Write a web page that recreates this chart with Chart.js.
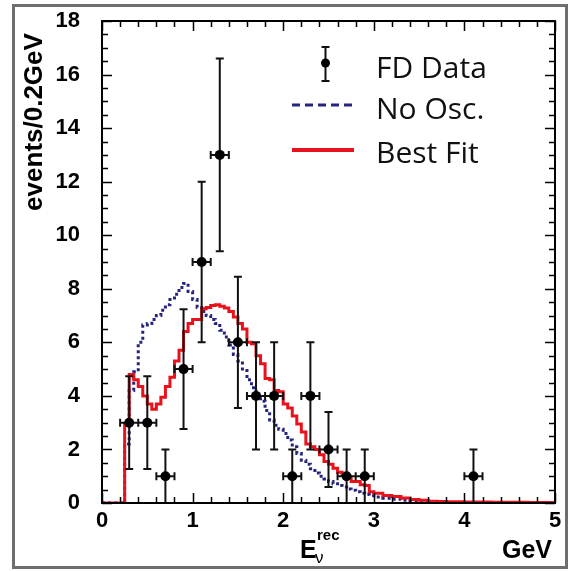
<!DOCTYPE html>
<html>
<head>
<meta charset="utf-8">
<script src="https://cdn.jsdelivr.net/npm/chart.js@4"></script>
<style>
  html, body { margin: 0; padding: 0; background: #fff; }
  canvas { display: block; }
</style>
</head>
<body>
<canvas id="c" width="570" height="571"></canvas>
<script>
// bin edges (GeV) shared by both histograms
const binEdges = [0, 0.25, 0.30, 0.35, 0.40, 0.45, 0.50, 0.55, 0.60, 0.65, 0.70, 0.75, 0.80, 0.85, 0.90, 0.95,
  1.00, 1.05, 1.10, 1.15, 1.20, 1.25, 1.30, 1.35, 1.40, 1.45, 1.50, 1.55, 1.60, 1.65, 1.70, 1.75, 1.80, 1.85, 1.90, 1.95,
  2.00, 2.05, 2.10, 2.15, 2.20, 2.25, 2.30, 2.35, 2.40, 2.45, 2.50, 2.55, 2.60, 2.65, 2.70, 2.75, 2.80, 2.85, 2.90, 2.95,
  3.0, 3.1, 3.2, 3.3, 3.4, 3.5, 3.6, 3.7, 3.8, 3.9, 4.0, 4.1, 4.2, 4.3, 4.4, 4.5, 4.6, 4.7, 4.8, 4.9, 5.0];

// no oscillation prediction (blue dotted)
const noOsc = [0, 2.2, 4.2, 4.9, 6.0, 6.65, 6.7, 6.85, 7.0, 7.2, 7.4, 7.6, 7.8, 8.05, 8.2,
  7.9, 7.6, 7.3, 7.15, 7.0, 6.85, 6.7, 6.45, 6.2, 5.9, 5.55, 5.3, 4.95, 4.6, 4.3, 4.05, 3.8, 3.45, 3.1, 2.9, 2.75,
  2.6, 2.35, 2.1, 1.85, 1.6, 1.45, 1.28, 1.12, 1.0, 0.9, 0.8, 0.72, 0.65, 0.6, 0.52, 0.48, 0.42, 0.36, 0.32, 0.27,
  0.22, 0.18, 0.14, 0.1, 0.07, 0.04, 0.02, 0.01, 0.01, 0.01, 0.01, 0.01, 0.01, 0.01, 0.01, 0.01, 0.01, 0.01, 0.01, 0.01];

// best fit (red)
const bestFit = [0, 2.95, 4.8, 4.6, 4.35, 4.0, 3.7, 3.5, 3.7, 3.95, 4.35, 4.7, 5.3, 5.7, 6.4,
  6.7, 6.85, 6.85, 7.25, 7.3, 7.38, 7.4, 7.35, 7.28, 7.15, 6.95, 6.7, 6.5, 6.0, 5.95, 5.5, 5.2, 4.65, 4.6, 4.2, 4.15,
  3.7, 3.55, 3.25, 2.95, 2.65, 2.2, 2.1, 2.0, 1.8, 1.55, 1.45, 1.3, 1.15, 1.05, 0.95, 0.8, 0.8, 0.68, 0.65, 0.42,
  0.36, 0.28, 0.24, 0.19, 0.13, 0.1, 0.07, 0.06, 0.05, 0.05, 0.04, 0.04, 0.04, 0.03, 0.03, 0.03, 0.03, 0.02, 0.02, 0.02];

// FD data with errors
const fdX    = [0.3, 0.5, 0.7, 0.9, 1.1, 1.3, 1.5, 1.7, 1.9, 2.1, 2.3, 2.5, 2.7, 2.9, 4.1];
const fdY    = [3, 3, 1, 5, 9, 13, 6, 4, 4, 1, 4, 2, 1, 1, 1];
const fdLow  = [1.27, 1.27, 0, 2.76, 6.0, 9.4, 3.55, 2.0, 2.0, 0, 2.0, 0.6, 0, 0, 0];
const fdHigh = [4.73, 4.73, 2.0, 7.24, 12.0, 16.6, 8.45, 6.0, 6.0, 2.0, 6.0, 3.4, 2.0, 2.0, 2.0];
const fdXerr = 0.1;

const BLUE = '#25257f';
const RED = '#e8121c';
const INK = '#111';

function histPoints(edges, vals) {
  return edges.map((e, i) => ({ x: e, y: i < vals.length ? vals[i] : vals[vals.length - 1] }));
}

// frame, inward ticks, outer gray border, texts, legend
const decor = {
  id: 'decor',
  beforeDraw(chart) {
    const ctx = chart.ctx;
    ctx.save();
    ctx.fillStyle = '#fff';
    ctx.fillRect(0, 0, chart.width, chart.height);
    ctx.strokeStyle = '#6e6e6e';
    ctx.lineWidth = 3;
    ctx.strokeRect(13.5, 5.5, 553, 562);
    ctx.restore();
  },
  afterDraw(chart) {
    const ctx = chart.ctx;
    const { left, right, top, bottom } = chart.chartArea;
    const xs = chart.scales.x, ys = chart.scales.y;
    ctx.save();
    ctx.strokeStyle = '#000';
    ctx.lineWidth = 1.5;
    ctx.beginPath();
    for (let v = 0; v <= 5.0001; v += 0.2) {
      const px = Math.round(xs.getPixelForValue(v)) + 0.5;
      const len = Math.abs(v - Math.round(v)) < 1e-6 ? 10 : 6;
      ctx.moveTo(px, bottom); ctx.lineTo(px, bottom - len);
      ctx.moveTo(px, top); ctx.lineTo(px, top + len);
    }
    for (let v = 0; v <= 18.0001; v += 0.5) {
      const py = Math.round(ys.getPixelForValue(v)) + 0.5;
      const len = Math.abs(v / 2 - Math.round(v / 2)) < 1e-6 ? 10 : 6;
      ctx.moveTo(left, py); ctx.lineTo(left + len, py);
      ctx.moveTo(right, py); ctx.lineTo(right - len, py);
    }
    ctx.stroke();
    ctx.lineWidth = 2;
    ctx.strokeRect(left, top, right - left, bottom - top);

    // y axis title
    ctx.fillStyle = '#000';
    ctx.save();
    ctx.translate(42, 122);
    ctx.rotate(-Math.PI / 2);
    ctx.font = 'bold 26px "Liberation Sans", Arial, sans-serif';
    ctx.textAlign = 'center';
    ctx.textBaseline = 'alphabetic';
    ctx.fillText('events/0.2GeV', 0, 0);
    ctx.restore();

    // x axis title
    ctx.font = 'bold 25px "Liberation Sans", Arial, sans-serif';
    ctx.textAlign = 'left';
    ctx.textBaseline = 'alphabetic';
    ctx.fillText('E', 300, 558);
    ctx.font = '17px "Liberation Sans", Arial, sans-serif';
    ctx.fillText('\u03BD', 315, 563);
    ctx.font = 'bold 15px "Liberation Sans", Arial, sans-serif';
    ctx.fillText('rec', 317, 540);
    ctx.font = 'bold 25px "Liberation Sans", Arial, sans-serif';
    ctx.textAlign = 'right';
    ctx.fillText('GeV', 552, 558);

    // legend
    ctx.strokeStyle = INK;
    ctx.lineWidth = 2;
    ctx.beginPath();
    ctx.moveTo(325.5, 47); ctx.lineTo(325.5, 81);
    ctx.moveTo(321.5, 47); ctx.lineTo(329.5, 47);
    ctx.moveTo(321.5, 81); ctx.lineTo(329.5, 81);
    ctx.stroke();
    ctx.fillStyle = '#000';
    ctx.beginPath(); ctx.arc(325.5, 63, 4.5, 0, Math.PI * 2); ctx.fill();

    ctx.setLineDash([8, 5]);
    ctx.strokeStyle = BLUE;
    ctx.lineWidth = 3;
    ctx.beginPath(); ctx.moveTo(292, 105); ctx.lineTo(354, 105); ctx.stroke();
    ctx.setLineDash([]);
    ctx.strokeStyle = RED;
    ctx.lineWidth = 4;
    ctx.beginPath(); ctx.moveTo(292, 150); ctx.lineTo(354, 150); ctx.stroke();

    ctx.fillStyle = '#111';
    ctx.font = '30px "Open Sans", sans-serif';
    ctx.textAlign = 'left';
    ctx.fillText('FD Data', 376, 78);
    ctx.fillText('No Osc.', 376, 119);
    ctx.fillText('Best Fit', 376, 163);
    ctx.restore();
  },
  beforeDatasetDraw(chart, args) {
    if (args.index !== 2) return;
    const ctx = chart.ctx;
    const xs = chart.scales.x, ys = chart.scales.y;
    ctx.save();
    ctx.strokeStyle = INK;
    ctx.lineWidth = 2;
    ctx.beginPath();
    fdX.forEach((x, i) => {
      const px = xs.getPixelForValue(x), py = ys.getPixelForValue(fdY[i]);
      const pl = ys.getPixelForValue(fdLow[i]), ph = ys.getPixelForValue(fdHigh[i]);
      const xl = xs.getPixelForValue(x - fdXerr), xr = xs.getPixelForValue(x + fdXerr);
      ctx.moveTo(px, pl); ctx.lineTo(px, ph);
      ctx.moveTo(px - 4, ph); ctx.lineTo(px + 4, ph);
      if (fdLow[i] > 0) { ctx.moveTo(px - 4, pl); ctx.lineTo(px + 4, pl); }
      ctx.moveTo(xl, py); ctx.lineTo(xr, py);
      ctx.moveTo(xl, py - 4); ctx.lineTo(xl, py + 4);
      ctx.moveTo(xr, py - 4); ctx.lineTo(xr, py + 4);
    });
    ctx.stroke();
    ctx.restore();
  }
};

new Chart(document.getElementById('c'), {
  type: 'line',
  data: {
    datasets: [
      {
        label: 'No Osc.',
        data: histPoints(binEdges, noOsc),
        borderColor: BLUE,
        borderWidth: 3,
        borderDash: [3, 3],
        stepped: true,
        pointRadius: 0,
        fill: false,
        order: 2
      },
      {
        label: 'Best Fit',
        data: histPoints(binEdges, bestFit),
        borderColor: RED,
        borderWidth: 3,
        stepped: true,
        pointRadius: 0,
        fill: false,
        order: 1
      },
      {
        label: 'FD Data',
        type: 'scatter',
        data: fdX.map((x, i) => ({ x: x, y: fdY[i] })),
        pointRadius: 5,
        pointBackgroundColor: '#000',
        pointBorderWidth: 0,
        showLine: false,
        order: 0
      }
    ]
  },
  options: {
    responsive: false,
    animation: false,
    devicePixelRatio: 1,
    layout: { padding: { left: 0, top: 21, right: 15, bottom: 0 } },
    plugins: { legend: { display: false }, tooltip: { enabled: false } },
    scales: {
      x: {
        type: 'linear', min: 0, max: 5,
        grid: { display: false, drawTicks: true, tickLength: 5 },
        border: { display: false },
        ticks: { stepSize: 1, color: '#000', padding: 0,
          font: { family: '"Liberation Sans", Arial, sans-serif', size: 22, weight: 'bold' } },
        afterFit(axis) { axis.height = 68; }
      },
      y: {
        type: 'linear', min: 0, max: 18,
        grid: { display: false, drawTicks: true, tickLength: 22 },
        border: { display: false },
        ticks: { stepSize: 2, color: '#000', padding: 0,
          font: { family: '"Liberation Sans", Arial, sans-serif', size: 22, weight: 'bold' } },
        afterFit(axis) { axis.width = 102; }
      }
    }
  },
  plugins: [decor]
});
</script>
</body>
</html>
